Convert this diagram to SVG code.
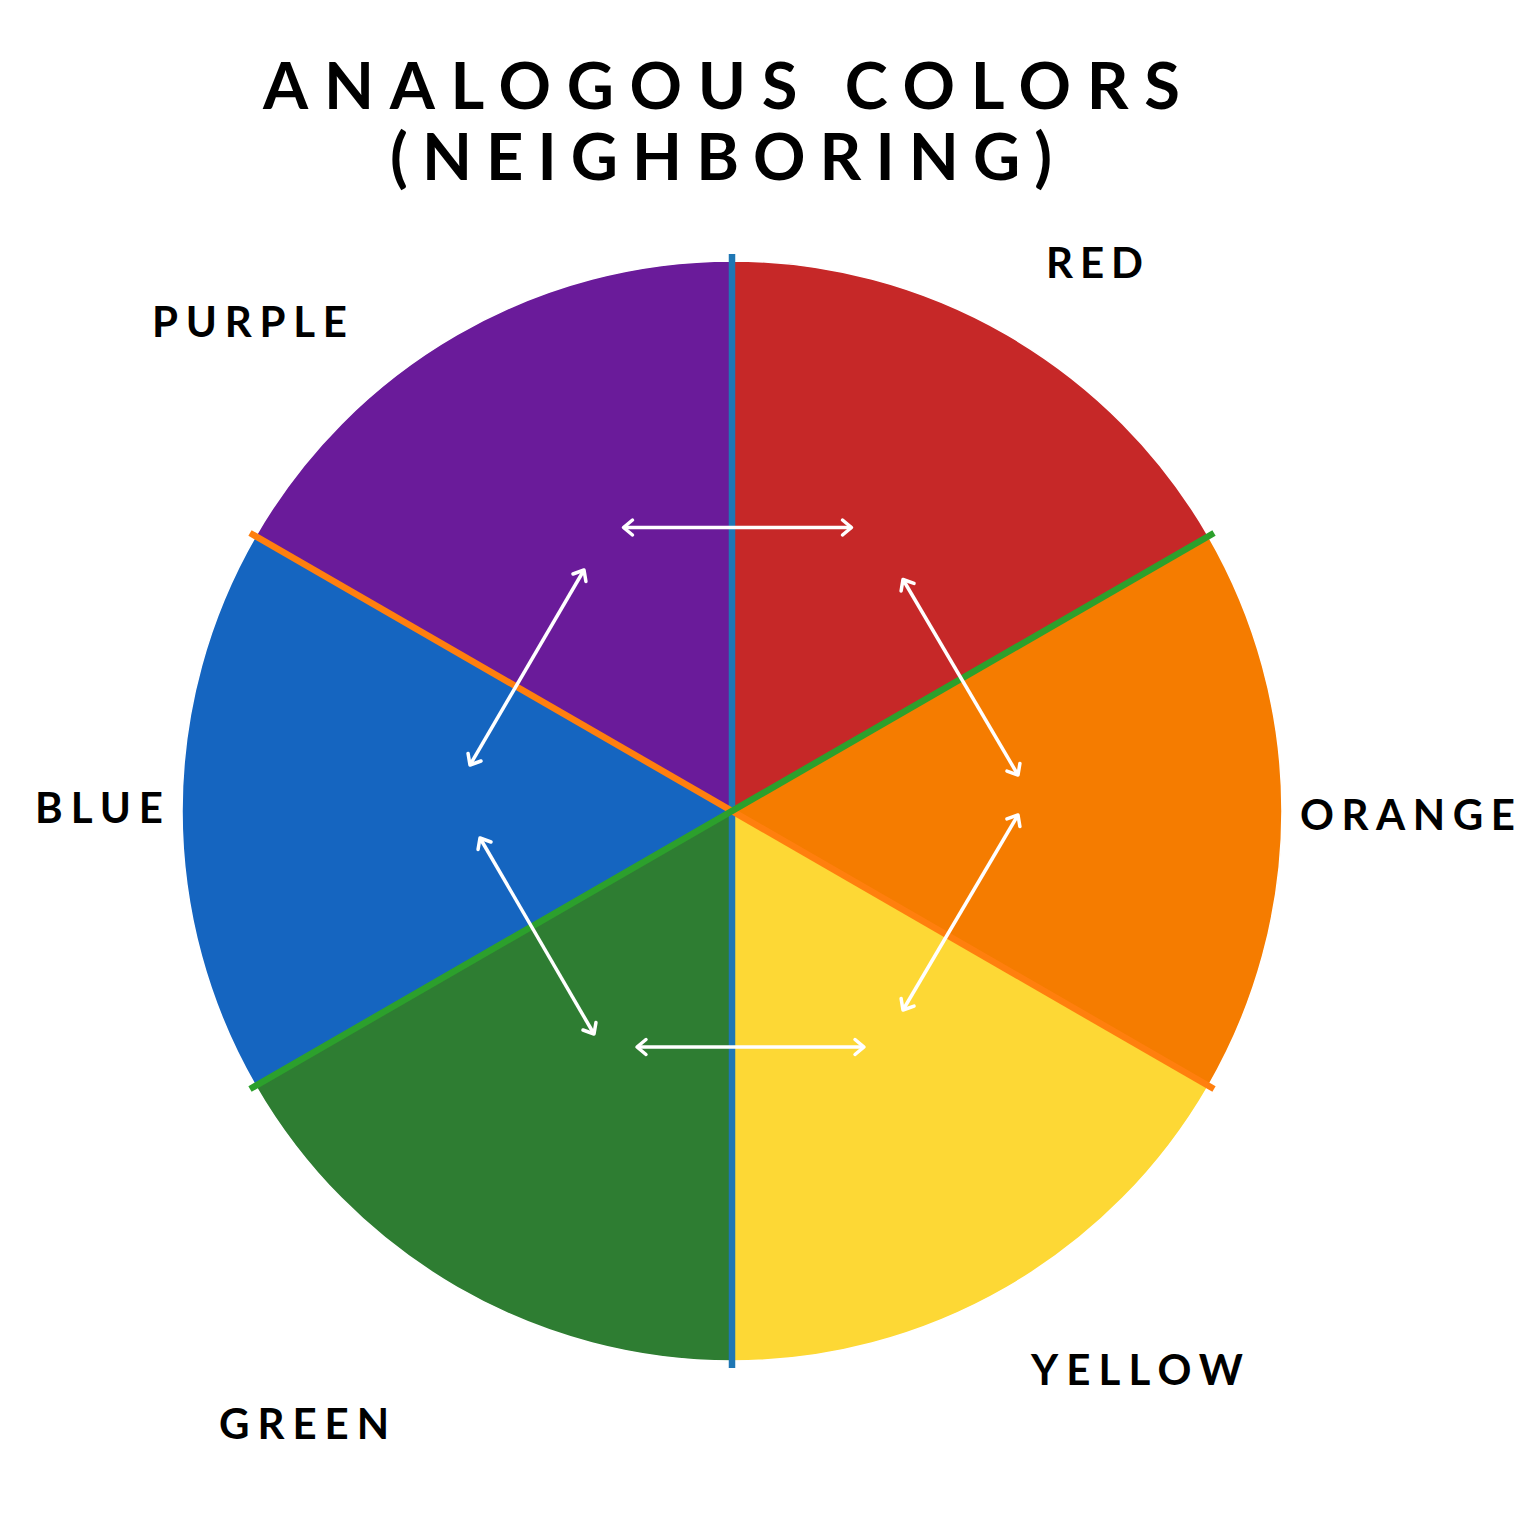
<svg xmlns="http://www.w3.org/2000/svg" width="1525" height="1534" viewBox="0 0 1525 1534">
<style>
.w{stroke:#ffffff;stroke-width:1.5;stroke-linejoin:round}
.t{font-family:Lato,"Liberation Sans",sans-serif;font-weight:700;fill:#000000}
.lab{font-size:42px}
.ttl{font-size:65px}
.ar{stroke:#ffffff;stroke-width:3.5;fill:none;marker-start:url(#ah);marker-end:url(#ah)}
.ln{stroke-width:6.5;fill:none}
</style>
<defs>
<marker id="ah" markerUnits="userSpaceOnUse" markerWidth="30" markerHeight="30" viewBox="-15 -15 30 30" refX="0" refY="0" orient="auto-start-reverse" overflow="visible">
<path d="M-9,-7.5 L0,0 L-9,7.5" fill="none" stroke="#ffffff" stroke-width="3.5" stroke-linecap="round" stroke-linejoin="round"/>
</marker>
</defs>
<rect width="1525" height="1534" fill="#ffffff"/>
<g id="title">
<text class="t ttl" x="263" y="109" textLength="917" lengthAdjust="spacing">ANALOGOUS COLORS</text>
<text class="t ttl" x="390" y="180" textLength="662" lengthAdjust="spacing">(NEIGHBORING)</text>
</g>
<g id="wedge-red"><path class="w" fill="#c62828" d="M732,811 L732,261 A550,550 0 0 1 1208.3,536 Z"/></g>
<g id="wedge-orange"><path class="w" fill="#f57c00" d="M732,811 L1208.3,536 A550,550 0 0 1 1208.3,1086 Z"/></g>
<g id="wedge-yellow"><path class="w" fill="#fdd835" d="M732,811 L1208.3,1086 A550,550 0 0 1 732,1361 Z"/></g>
<g id="wedge-green"><path class="w" fill="#2e7d32" d="M732,811 L732,1361 A550,550 0 0 1 255.7,1086 Z"/></g>
<g id="wedge-blue"><path class="w" fill="#1565c0" d="M732,811 L255.7,1086 A550,550 0 0 1 255.7,536 Z"/></g>
<g id="wedge-purple"><path class="w" fill="#6a1b9a" d="M732,811 L255.7,536 A550,550 0 0 1 732,261 Z"/></g>
<g id="divider-lines">
<line class="ln" stroke="#1f77b4" x1="732" y1="254" x2="732" y2="1368"/>
<line class="ln" stroke="#ff7f0e" x1="250" y1="533" x2="1214" y2="1089"/>
<line class="ln" stroke="#2ca02c" x1="1214" y1="533" x2="250" y2="1089"/>
</g>
<g id="connectors">
<line class="ar" x1="623.5" y1="527.5" x2="851.5" y2="527.5"/>
<line class="ar" x1="903" y1="579.5" x2="1018" y2="775"/>
<line class="ar" x1="1018" y1="815" x2="903" y2="1010"/>
<line class="ar" x1="864" y1="1047" x2="637" y2="1047"/>
<line class="ar" x1="594" y1="1034" x2="480" y2="838"/>
<line class="ar" x1="470" y1="765" x2="584" y2="570"/>
</g>
<g id="labels">
<text id="label-red" class="t lab" x="1046" y="278" textLength="97" lengthAdjust="spacing">RED</text>
<text id="label-purple" class="t lab" x="152" y="337" textLength="195" lengthAdjust="spacing">PURPLE</text>
<text id="label-blue" class="t lab" x="35" y="823" textLength="128" lengthAdjust="spacing">BLUE</text>
<text id="label-orange" class="t lab" x="1300" y="830" textLength="215" lengthAdjust="spacing">ORANGE</text>
<text id="label-yellow" class="t lab" x="1031" y="1385" textLength="212" lengthAdjust="spacing">YELLOW</text>
<text id="label-green" class="t lab" x="219" y="1439" textLength="170" lengthAdjust="spacing">GREEN</text>
</g>
</svg>
